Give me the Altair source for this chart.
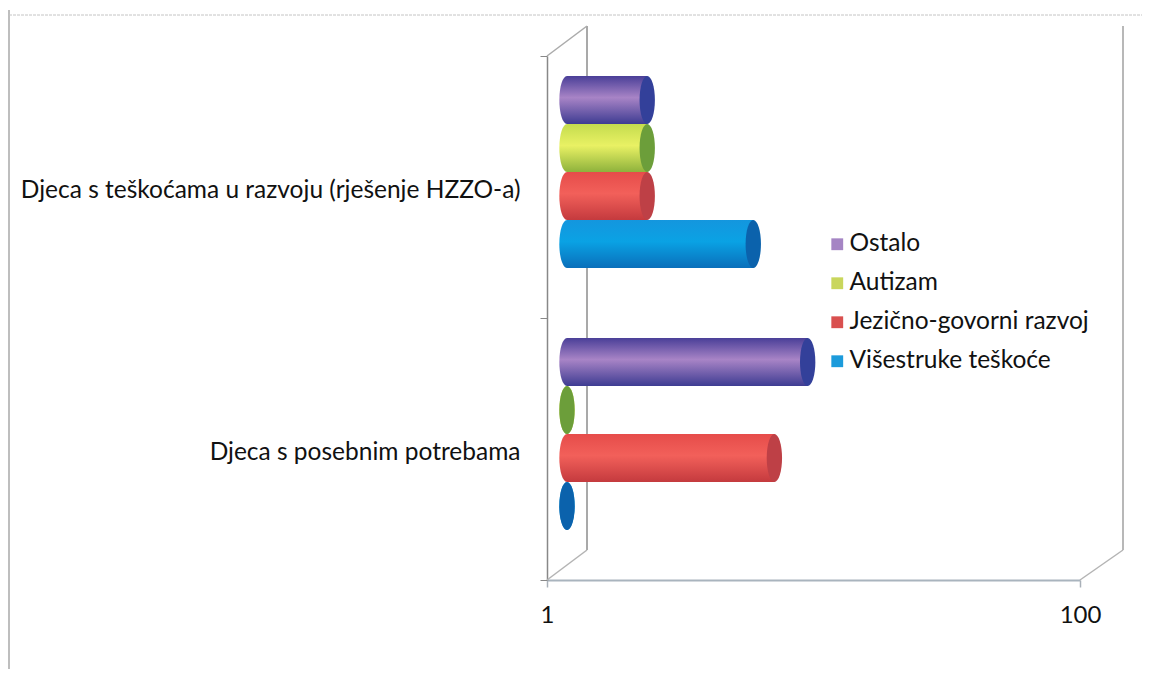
import altair as alt
import pandas as pd

categories = ["Djeca s teškoćama u razvoju (rješenje HZZO-a)", "Djeca s posebnim potrebama"]
series = ["Ostalo", "Autizam", "Jezično-govorni razvoj", "Višestruke teškoće"]
values_ostalo = [2, 8]
values_autizam = [2, 1]
values_jezicno = [2, 6]
values_visestruke = [5, 1]
legend_colors = ["#A585C4", "#C9D65C", "#D9504F", "#1C9BDB"]
cap_colors = ["#33409A", "#6C9E3A", "#BE4046", "#0B62AC"]
shades = [
    ["#4A3F98", "#A884C6", "#3E3C92"],
    ["#C4DC4E", "#E9F164", "#8EB23C"],
    ["#E64C4A", "#F2605A", "#C43A3E"],
    ["#1496DE", "#0AA2E4", "#0A6FBA"],
]

rows = []
for s, vals in zip(series, [values_ostalo, values_autizam, values_jezicno, values_visestruke]):
    for c, v in zip(categories, vals):
        rows.append({"cat": c, "series": s, "value": v, "base": 1})
df = pd.DataFrame(rows)

FONT = "Lato"
ELLIPSE = "M-0.32 0A0.32 1 0 1 1 0.32 0A0.32 1 0 1 1 -0.32 0Z"
DX = 20

x_scale = alt.Scale(type="log", domain=[1, 100], range=[0, 533])
x_axis = alt.Axis(values=[1, 100], format="d", title=None, grid=False, tickColor="#A9B0B8",
                  domainColor="#A9B4BE", domainWidth=2, tickWidth=1.5, tickSize=7,
                  labelFont=FONT, labelFontSize=24, labelColor="#111111", labelPadding=16,
                  labelFlush=False)
x = alt.X("value:Q", scale=x_scale, axis=x_axis)
xb = alt.X("base:Q", scale=x_scale, axis=x_axis)

# front plane of the 3D box carries the category axis
y_front = alt.Y("cat:N", sort=categories,
                scale=alt.Scale(domain=categories, range=[0, 524], paddingInner=0, paddingOuter=0),
                axis=alt.Axis(title=None, grid=False, tickBand="extent", tickColor="#888888",
                              tickSize=7, domainColor="#888888", domainWidth=1.5, labelFont=FONT,
                              labelFontSize=24.5, labelColor="#111111", labelLimit=600,
                              labelPadding=20, labelOffset=3))
# bars stand half a box depth further back
y_mid = alt.Y("cat:N", sort=categories,
              scale=alt.Scale(domain=categories, range=[-15, 509], paddingInner=0, paddingOuter=0),
              axis=None)
yo = alt.YOffset("series:N", sort=series,
                 scale=alt.Scale(domain=series, paddingInner=0, paddingOuter=0.73))
yo_point = alt.YOffset("series:N", sort=series,
                       scale=alt.Scale(type="band", domain=series, paddingInner=0, paddingOuter=0.73))


def rule(x1, y1, x2, y2, color="#9A9A9A", w=1.5, dash=None):
    kw = {"strokeDash": dash} if dash else {}
    return alt.Chart(df.head(1)).mark_rule(color=color, strokeWidth=w, **kw).encode(
        x=alt.value(x1 - 547), x2=alt.value(x2 - 547),
        y=alt.value(y1 - 56), y2=alt.value(y2 - 56))


frame = [
    rule(9, 10, 9, 680, "#A8A8A8", 1.5),
    rule(9, 15, 1150, 15, "#C4C4C4", 1, [3, 1]),
    rule(587, 26, 587, 550, "#8C8C8C", 1.5),
    rule(1123, 26, 1123, 550, "#A0A0A0", 1.5),
    rule(547, 56, 587, 26, "#ABABAB", 1.5),
    rule(547, 580, 587, 550, "#B4B4B4", 1.5),
    rule(1080, 580, 1123, 550, "#B4B4B4", 1.5),
]

axes_layer = alt.Chart(df).mark_bar(opacity=0).encode(x=x, x2=alt.X2("base:Q"), y=y_front)

base = alt.Chart(df).mark_bar(xOffset=DX, x2Offset=DX).encode(
    x=x, x2=alt.X2("base:Q"), y=y_mid, yOffset=yo,
    color=alt.Color("series:N", scale=alt.Scale(domain=series, range=legend_colors),
                    legend=alt.Legend(title=None, orient="none", legendX=274, legendY=176,
                                      symbolType="square", symbolSize=140, symbolStrokeWidth=0,
                                      symbolOffset=4, labelFont=FONT, labelFontSize=24.5,
                                      labelColor="#111111", labelLimit=400, rowPadding=14,
                                      labelOffset=0, symbolOpacity=1)))

layers = frame + [axes_layer, base]
for s, shade, cap in zip(series, shades, cap_colors):
    grad = alt.Gradient(gradient="linear", x1=0, y1=0, x2=0, y2=1, stops=[
        alt.GradientStop(offset=0, color=shade[0]),
        alt.GradientStop(offset=0.45, color=shade[1]),
        alt.GradientStop(offset=1, color=shade[2]),
    ])
    sub = alt.Chart(df[df.series == s])
    layers.append(sub.mark_point(shape=ELLIPSE, size=2304, filled=True, fill=grad, opacity=1,
                                 strokeWidth=0, xOffset=DX)
                  .encode(x=xb, y=y_mid, yOffset=yo_point))
    layers.append(sub.mark_bar(fill=grad, xOffset=DX, x2Offset=DX)
                  .encode(x=x, x2=alt.X2("base:Q"), y=y_mid, yOffset=yo))
    layers.append(sub.mark_point(shape=ELLIPSE, size=2304, filled=True, fill=cap, opacity=1,
                                 strokeWidth=0, xOffset=DX)
                  .encode(x=x, y=y_mid, yOffset=yo_point))

chart = alt.layer(*layers).resolve_scale(y="independent", yOffset="independent").properties(
    width=533, height=524,
    padding={"left": 539, "top": 48, "right": 62, "bottom": 89},
    autosize=alt.AutoSizeParams(type="none"),
    background="white",
).configure_view(stroke=None)

chart.save("out.html", embed_options={"renderer": "svg", "actions": False})
